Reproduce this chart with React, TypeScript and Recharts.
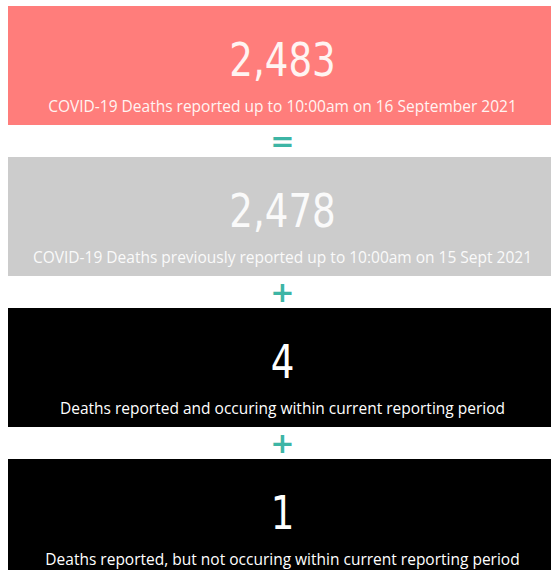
import { BarChart, Bar, XAxis, YAxis } from 'recharts';

const boxes = ['current', 'previous', 'within', 'outside'];
const totals = [2483, 2478, 4, 1];
const captions = [
  'COVID-19 Deaths reported up to 10:00am on 16 September 2021',
  'COVID-19 Deaths previously reported up to 10:00am on 15 Sept 2021',
  'Deaths reported and occuring within current reporting period',
  'Deaths reported, but not occuring within current reporting period',
];
const operators = ['=', '+', '+', ''];
const fills = ['#ff7d7b', '#cccccc', '#000000', '#000000'];
const textColors = ['#fff4f2', '#fafafa', '#ffffff', '#ffffff'];

const data = boxes.map((name, i) => ({
  name,
  span: 1,
  total: totals[i],
  caption: captions[i],
  op: operators[i],
  fill: fills[i],
  color: textColors[i],
}));

const TEAL = '#3db5a5';

function Tile(props: any) {
  const { x, y, width, height, payload } = props;
  const cx = x + width / 2 + 3;
  return (
    <g>
      <rect x={x} y={y} width={width} height={height} fill={payload.fill} />
      <text
        transform={`translate(${cx},${y + 70}) scale(0.88,1)`}
        textAnchor="middle"
        fill={payload.color}
        fontFamily="'DejaVu Sans Condensed', 'DejaVu Sans', sans-serif"
        fontSize={47}
      >
        {payload.total.toLocaleString('en-US')}
      </text>
      <text
        x={cx}
        y={y + 106}
        textAnchor="middle"
        fill={payload.color}
        fontFamily="'Open Sans', sans-serif"
        fontSize={15.5}
      >
        {payload.caption}
      </text>
      {payload.op && (
        <text
          x={cx}
          y={y + height + 26}
          textAnchor="middle"
          fill={TEAL}
          fontFamily="'DejaVu Sans', sans-serif"
          fontWeight="bold"
          fontSize={29}
        >
          {payload.op}
        </text>
      )}
    </g>
  );
}

export default function App() {
  return (
    <div style={{ position: 'absolute', top: -10, left: 0, background: '#fff' }}>
      <BarChart
        width={559}
        height={604}
        data={data}
        layout="vertical"
        margin={{ top: 0, right: 8, bottom: 0, left: 8 }}
      >
        <XAxis type="number" domain={[0, 1]} hide />
        <YAxis type="category" dataKey="name" hide />
        <Bar dataKey="span" barSize={119} shape={<Tile />} isAnimationActive={false} />
      </BarChart>
    </div>
  );
}
